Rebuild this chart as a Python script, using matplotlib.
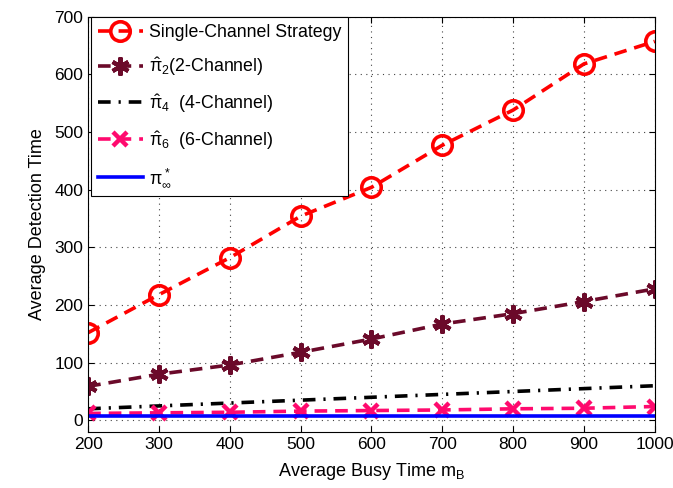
import matplotlib
matplotlib.use("Agg")
import matplotlib.pyplot as plt

plt.rcParams['font.family'] = ['Liberation Sans', 'DejaVu Sans']
plt.rcParams['mathtext.fontset'] = 'custom'
plt.rcParams['mathtext.rm'] = 'Liberation Sans'
plt.rcParams['mathtext.it'] = 'Liberation Sans'

busy_time = [200, 300, 400, 500, 600, 700, 800, 900, 1000]
single = [152, 218, 282, 354, 404, 477, 538, 618, 657]
pi2 = [59, 80, 96, 118, 141, 167, 185, 206, 228]
pi4 = [20, 25, 30, 35, 40, 45, 50, 55, 60]
pi6 = [12, 13, 14, 16, 17, 18, 20, 21, 24]
pi_inf = [8, 8, 8, 8, 8, 8, 8, 8, 8]

labels = ["Single-Channel Strategy", r"$\hat{\pi}_2$(2-Channel)", r"$\hat{\pi}_4$  (4-Channel)",
          r"$\hat{\pi}_6$  (6-Channel)", r"$\pi^*_\infty$"]

fig = plt.figure(figsize=(6.73, 4.88), dpi=100)
ax = fig.add_axes([0.131, 0.115, 0.842, 0.851])

ax.plot(busy_time, single, color='#ff0000', ls='--', lw=2.6, dashes=(3.5, 2.2),
        marker='o', ms=14, mfc='none', mec='#ff0000', mew=2.6, label=labels[0])
ax.plot(busy_time, pi2, color='#6b0a2a', ls='--', lw=2.6, dashes=(3.5, 2.2),
        marker=(6, 2, 0), ms=13, mew=3, mec='#6b0a2a', label=labels[1])
ax.plot(busy_time, pi4, color='black', ls='-.', lw=2.6, dashes=(3.5, 2.2, 0.6, 2.2), label=labels[2])
ax.plot(busy_time, pi6, color='#ff0a6e', ls='--', lw=2.6, dashes=(3.5, 2.2),
        marker='x', ms=10.5, mew=3.2, label=labels[3])
ax.plot(busy_time, pi_inf, color='#0000ff', ls='-', lw=2.6, label=labels[4])

ax.set_xlim(200, 1000)
ax.set_ylim(-20, 700)
ax.set_xticks(busy_time)
ax.set_yticks([0, 100, 200, 300, 400, 500, 600, 700])
ax.grid(True, ls=(0, (1, 4)), color='#444444', lw=0.8)
ax.tick_params(direction='in', top=True, right=True, labelsize=12.5, length=4)
ax.set_xlabel(r"Average Busy Time m$_{\mathrm{B}}$", fontsize=13, labelpad=7)
ax.set_ylabel("Average Detection Time", fontsize=13, labelpad=6)

leg = ax.legend(loc='upper left', bbox_to_anchor=(0.002, 1.004), fontsize=12.8, fancybox=False,
                edgecolor='black', framealpha=1, handlelength=2.5, labelspacing=0.8,
                borderpad=0.4, handletextpad=0.35, borderaxespad=0.1)
leg.get_frame().set_linewidth(0.8)

fig.savefig("out.png", dpi=100)
